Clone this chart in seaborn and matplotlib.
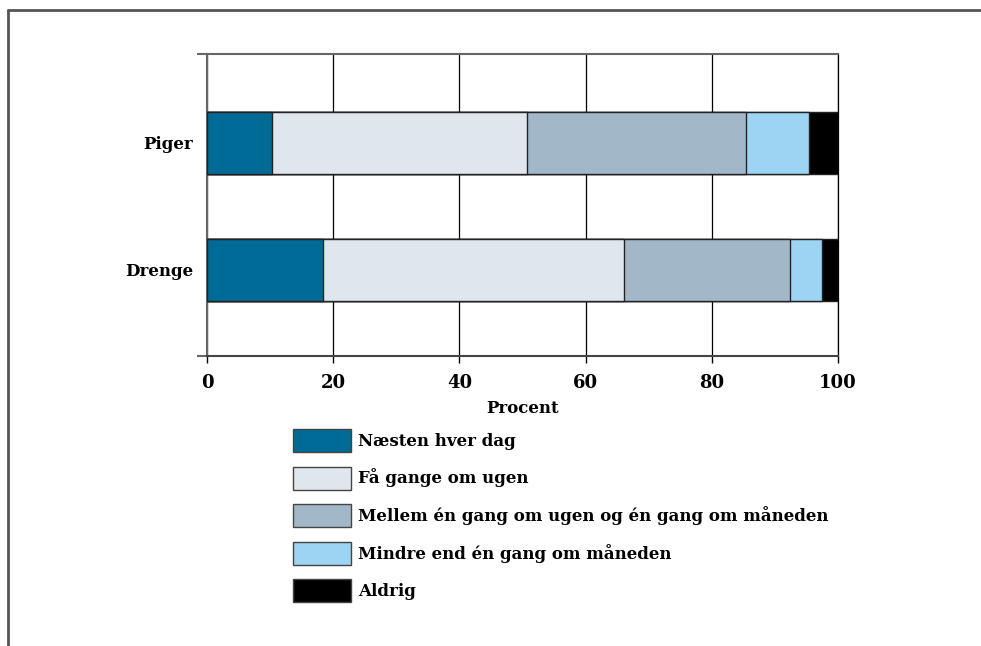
import matplotlib
matplotlib.use("Agg")
import matplotlib.pyplot as plt
import numpy as np
import pandas as pd
import seaborn as sns
from matplotlib.lines import Line2D
from matplotlib.patches import Patch

# ── Data ──────────────────────────────────────────────────────────────────────
groups = ["Piger", "Drenge"]
categories = [
    "Næsten hver dag",
    "Få gange om ugen",
    "Mellem én gang om ugen og én gang om måneden",
    "Mindre end én gang om måneden",
    "Aldrig",
]
piger = [10.3, 40.4, 34.7, 10.0, 4.6]
drenge = [18.4, 47.7, 26.3, 5.0, 2.6]
colors = ["#006a96", "#dfe6ed", "#a2b8c8", "#9dd3f3", "#000000"]
xticks = [0, 20, 40, 60, 80, 100]

# ── Plot ──────────────────────────────────────────────────────────────────────
sns.set_style("white")
plt.rcParams["font.family"] = ["DejaVu Serif"]
plt.rcParams["font.weight"] = "bold"
plt.rcParams["text.color"] = "black"
plt.rcParams["axes.labelcolor"] = "black"
plt.rcParams["xtick.color"] = "black"
plt.rcParams["ytick.color"] = "black"

fig = plt.figure(figsize=(9.81, 6.46), dpi=100)
ax = fig.add_axes([0.2110, 0.4489, 0.6432, 0.4675])

cum_p = np.cumsum(piger)
cum_d = np.cumsum(drenge)

# draw cumulative bars from the longest to the shortest so segments stack
for i in range(len(categories) - 1, -1, -1):
    df = pd.DataFrame({"group": groups, "value": [cum_p[i], cum_d[i]]})
    sns.barplot(
        data=df, x="value", y="group", orient="h", order=groups,
        color=colors[i], edgecolor="#222222", linewidth=1.0,
        width=0.49, saturation=1, ax=ax, zorder=3,
    )

ax.set_xlim(0, 100)
ax.set_ylim(1.68, -0.70)
ax.set_xticks(xticks)
ax.set_xticklabels([str(t) for t in xticks], fontsize=13, fontweight="bold")
ax.tick_params(axis="x", direction="out", length=5, width=1,
               bottom=True, pad=8)
ax.tick_params(axis="y", length=0, pad=10, labelsize=12)
for lab in ax.get_yticklabels():
    lab.set_fontweight("bold")
ax.set_yticks([1.68, -0.70], minor=True)
ax.tick_params(axis="y", which="minor", direction="out", length=7, width=1.5,
               color="#666666", left=True)
ax.set_ylabel("")
ax.set_xlabel("Procent", fontsize=12, fontweight="bold", labelpad=6)

ax.grid(axis="x", color="black", linewidth=0.9, zorder=0)
ax.set_axisbelow(True)
for side in ["top", "left"]:
    ax.spines[side].set_color("#666666")
    ax.spines[side].set_linewidth(1.5)
ax.spines["bottom"].set_color("#444444")
ax.spines["bottom"].set_linewidth(1.5)
ax.spines["right"].set_color("black")
ax.spines["right"].set_linewidth(0.9)

handles = [Patch(facecolor=c, edgecolor="#444444", linewidth=1.0) for c in colors]
fig.legend(
    handles, categories, loc="upper left",
    bbox_to_anchor=(293 / 981, 1 - 429 / 646), frameon=False,
    prop={"family": "DejaVu Serif", "weight": "bold", "size": 12},
    handlelength=3.48, handleheight=1.75, handletextpad=0.42,
    labelspacing=0.87, borderaxespad=0, borderpad=0,
)

# outer frame (top and left edges)
fig.add_artist(Line2D([8 / 981, 1], [1 - 10 / 646, 1 - 10 / 646],
                      transform=fig.transFigure, color="#555555", lw=2))
fig.add_artist(Line2D([8 / 981, 8 / 981], [0, 1 - 10 / 646],
                      transform=fig.transFigure, color="#555555", lw=2))

fig.savefig("out.png", dpi=100)
plt.close(fig)
